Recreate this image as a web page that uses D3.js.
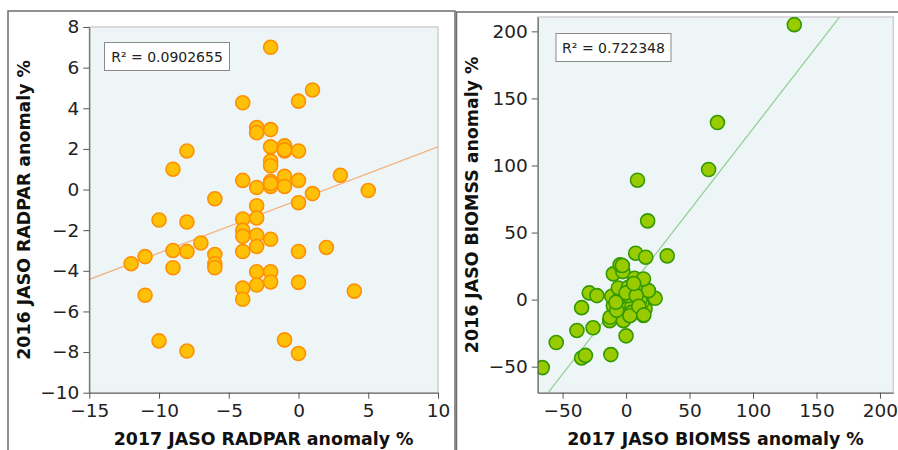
<!DOCTYPE html>
<html lang="en">
<head>
<meta charset="utf-8">
<style>
  body { margin: 0; background: white; }
  svg { font-family: 'DejaVu Sans', sans-serif; }
  .frame { fill: none; stroke: #6e6e6e; stroke-width: 1.5; }
  .plotbg { fill: #eef5f7; stroke: #cfcfcf; stroke-width: 1.5; }
  .axis path, .axis line { stroke: #555; }
  .axis text { fill: #222; font-size: 18.5px; font-family: 'DejaVu Sans', sans-serif; }
  .title { font-weight: bold; font-size: 17.4px; fill: #111; }
  .rbox rect { fill: white; stroke: #8a8a8a; }
  .rbox text { font-size: 14px; fill: #222; }
</style>
</head>
<body>
<svg width="898" height="450"></svg>
<script src="https://d3js.org/d3.v7.min.js"></script>
<script>
// --- left panel: RADPAR anomaly (2017 vs 2016)
const radparX = [-2, -4, 0, 1, -3, -3, -2, -2, -1, -1, 0, -8, -9, -2, -2, -4, -3, -2, -2, -1, -1, 0, 1, 3, 5,
  -6, -3, 0, -10, -8, -4, -3, -4, -4, -3, -3, -2, -7, -9, -8, -6, -6, -6, -4, 0, 2, -12, -11, -9, -3, -2,
  -3, -2, 0, -4, -4, -11, 4, -10, -8, -1, 0, -2, -1];
const radparY = [7.0, 4.27, 4.35, 4.9, 3.05, 2.8, 2.95, 2.1, 2.15, 1.9, 1.9, 1.9, 1.0, 1.4, 1.17, 0.45, 0.1, 0.4, 0.15, 0.65, 0.15, 0.45, -0.2, 0.7, -0.05,
  -0.45, -0.8, -0.65, -1.5, -1.6, -1.45, -1.4, -2.0, -2.3, -2.25, -2.8, -2.45, -2.63, -3.0, -3.05, -3.2, -3.65, -3.85, -3.05, -3.05, -2.85, -3.65, -3.3, -3.85, -4.05, -4.05,
  -4.7, -4.55, -4.57, -4.85, -5.4, -5.2, -5.0, -7.45, -7.95, -7.4, -8.07, 0.3, 1.95];
const radparFit = { slope: 0.261, intercept: -0.51, r2: "0.0902655" };
const radparXTicks = [-15, -10, -5, 0, 5, 10];
const radparYTicks = [-10, -8, -6, -4, -2, 0, 2, 4, 6, 8];

// --- right panel: BIOMSS anomaly (2017 vs 2016)
const biomssX = [-66, -55, -38.7, -35, -32, -26, -35, -29, -23, -12, 0, -12.9, -12.6, -2.1, -7.3, -10, -3.4, -7.4,
  4.5, 4.5, 15, 13.7, 12.4, 11, 22.9, -11.3, -4.7, 1.8, -6.1, 1.8, 6.6, 12.4, 17.6, 6.6, 13.7, -10, -2.6, -4.7, -2.9,
  7.6, 15.5, 32.4, 17, 9, 65, 72, 132.5, 0, 8, 3, -8, 6, 10, 14];
const biomssY = [-50.7, -32, -23, -43.5, -41.6, -21, -6, 5, 3, -41, -27, -15.7, -13.2, -15.7, -6.9, -4.5, -4.5, -8,
  -5.7, -9.5, -6.9, -11.9, -2, 0, 1, 2.5, 1.7, 3, 8.7, 9.2, 9.2, 9.2, 6.7, 15.9, 15.4, 19.2, 20.9, 25.9, 25.4,
  34.6, 31.6, 32.6, 58.7, 89, 97, 132, 205, 5, 3, -12, -2, 12, -5, -11.4];
const biomssFit = { slope: 1.22, intercept: 5.5, r2: "0.722348" };
const biomssXTicks = [-50, 0, 50, 100, 150, 200];
const biomssYTicks = [-50, 0, 50, 100, 150, 200];

const svg = d3.select("svg");

// panel frames
svg.append("rect").attr("class", "frame").attr("x", 8).attr("y", 11).attr("width", 447).attr("height", 460);
svg.append("rect").attr("class", "frame").attr("x", 456.5).attr("y", 12).attr("width", 460).attr("height", 460);

function panel(cfg) {
  const x = d3.scaleLinear().domain(cfg.xDomain).range([cfg.left, cfg.right]);
  const y = d3.scaleLinear().domain(cfg.yDomain).range([cfg.bottom, cfg.top]);
  const g = svg.append("g");

  g.append("rect").attr("class", "plotbg")
    .attr("x", cfg.left).attr("y", cfg.top)
    .attr("width", cfg.right - cfg.left).attr("height", cfg.bottom - cfg.top);

  g.append("clipPath").attr("id", cfg.id + "-clip")
    .append("rect").attr("x", cfg.left).attr("y", cfg.top)
    .attr("width", cfg.right - cfg.left).attr("height", cfg.bottom - cfg.top);

  // fitted line
  const x0 = cfg.xDomain[0], x1 = cfg.xDomain[1];
  g.append("line")
    .attr("clip-path", "url(#" + cfg.id + "-clip)")
    .attr("x1", x(x0)).attr("y1", y(cfg.fit.slope * x0 + cfg.fit.intercept))
    .attr("x2", x(x1)).attr("y2", y(cfg.fit.slope * x1 + cfg.fit.intercept))
    .attr("stroke", cfg.lineColor).attr("stroke-width", 1.2);

  const pts = cfg.xs.map((v, i) => ({ x: v, y: cfg.ys[i] }));
  g.append("g").attr("clip-path", "url(#" + cfg.id + "-clip)")
    .selectAll("circle").data(pts).enter().append("circle")
    .attr("cx", d => x(d.x)).attr("cy", d => y(d.y)).attr("r", 7)
    .attr("fill", cfg.fill).attr("stroke", cfg.stroke).attr("stroke-width", 1.6);

  g.append("g").attr("class", "axis")
    .attr("transform", "translate(0," + cfg.bottom + ")")
    .call(d3.axisBottom(x).tickValues(cfg.xTicks).tickSize(6).tickPadding(5).tickSizeOuter(0));
  g.append("g").attr("class", "axis")
    .attr("transform", "translate(" + cfg.left + ",0)")
    .call(d3.axisLeft(y).tickValues(cfg.yTicks).tickSize(6).tickPadding(4).tickSizeOuter(0));

  g.append("text").attr("class", "title")
    .attr("x", (cfg.left + cfg.right) / 2).attr("y", 445)
    .attr("text-anchor", "middle").text(cfg.xTitle);
  g.append("text").attr("class", "title")
    .attr("transform", "translate(" + cfg.yTitleX + "," + (cfg.top + cfg.bottom) / 2 + ") rotate(-90)")
    .attr("text-anchor", "middle").text(cfg.yTitle);

  const rb = g.append("g").attr("class", "rbox");
  rb.append("rect").attr("x", cfg.box[0]).attr("y", cfg.box[1]).attr("width", cfg.box[2]).attr("height", 28);
  rb.append("text").attr("x", cfg.box[0] + cfg.box[2] / 2).attr("y", cfg.box[1] + 19)
    .attr("text-anchor", "middle").text("R\u00b2 = " + cfg.fit.r2);
}

panel({
  id: "radpar", xs: radparX, ys: radparY, fit: radparFit,
  xDomain: [-15, 10], yDomain: [-10, 8], xTicks: radparXTicks, yTicks: radparYTicks,
  left: 89.3, right: 438, top: 27, bottom: 392.7,
  fill: "#ffc107", stroke: "#ff8f00", lineColor: "#f5ad78",
  xTitle: "2017 JASO RADPAR anomaly %", yTitle: "2016 JASO RADPAR anomaly %", yTitleX: 30,
  box: [104.5, 42.5, 125]
});

panel({
  id: "biomss", xs: biomssX, ys: biomssY, fit: biomssFit,
  xDomain: [-69.6, 210.5], yDomain: [-69.4, 210.7], xTicks: biomssXTicks, yTicks: biomssYTicks,
  left: 537.7, right: 893.3, top: 17, bottom: 392.7,
  fill: "#99cc00", stroke: "#339900", lineColor: "#8fcf8f",
  xTitle: "2017 JASO BIOMSS anomaly %", yTitle: "2016 JASO BIOMSS anomaly %", yTitleX: 478,
  box: [556, 33.5, 115]
});
</script>
</body>
</html>
